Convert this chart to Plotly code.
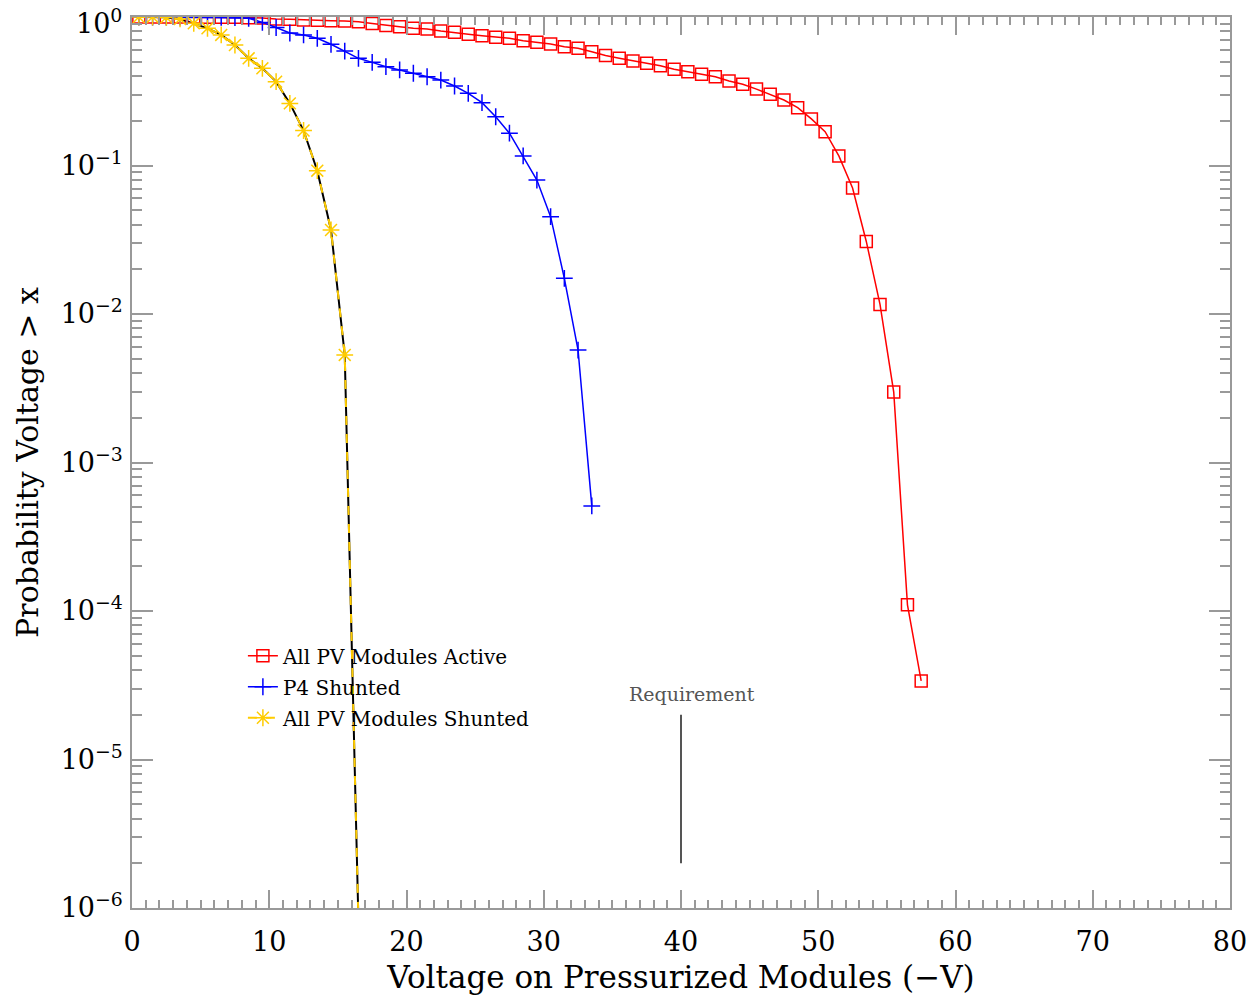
import plotly.graph_objects as go
import numpy as np

# ---------------- data ----------------
x_active = [i + 0.5 for i in range(58)]
p_active = [1.0, 1.0, 1.0, 1.0, 0.999, 0.998, 0.997, 0.995, 0.99, 0.985,
            0.969, 0.965, 0.955, 0.952, 0.944, 0.94, 0.93, 0.905, 0.878, 0.860,
            0.839, 0.830, 0.805, 0.789, 0.765, 0.748, 0.730, 0.719, 0.692, 0.675,
            0.658, 0.631, 0.616, 0.584, 0.550, 0.527, 0.506, 0.488, 0.470, 0.445,
            0.428, 0.411, 0.396, 0.371, 0.352, 0.327, 0.302, 0.276, 0.245, 0.206,
            0.169, 0.116, 0.0706, 0.0308, 0.0116, 0.00298, 1.10e-4, 3.38e-5]

x_p4 = [i + 0.5 for i in range(34)]
p_p4 = [1.0, 1.0, 1.0, 1.0, 1.0, 0.998, 0.995, 0.99, 0.98, 0.92,
        0.85, 0.78, 0.757, 0.719, 0.655, 0.59, 0.527, 0.495, 0.463, 0.440,
        0.418, 0.396, 0.376, 0.343, 0.306, 0.265, 0.213, 0.165, 0.116, 0.0798,
        0.0452, 0.0174, 0.00572, 5.1e-4]

x_all = [i + 0.5 for i in range(17)]
p_all = [1.0, 1.0, 0.995, 0.97, 0.907, 0.839, 0.757, 0.648, 0.527, 0.451,
         0.367, 0.262, 0.172, 0.0923, 0.0368, 0.0053, 8e-7]

req_x = [40, 40]
req_y = [2e-6, 2e-5]

x_ticks = [0, 10, 20, 30, 40, 50, 60, 70, 80]
y_tick_exp = [0, -1, -2, -3, -4, -5, -6]

FONT = "DejaVu Serif"

fig = go.Figure()

# black underlying line of the all-shunted curve
fig.add_trace(go.Scatter(x=x_all, y=p_all, mode="lines",
                         line=dict(color="black", width=2),
                         showlegend=False, hoverinfo="skip"))
fig.add_trace(go.Scatter(x=x_active, y=p_active, mode="lines+markers",
                         name="All PV Modules Active", legendgroup="a",
                         line=dict(color="#ff0000", width=1.5),
                         marker=dict(symbol="square-open", size=12,
                                     color="#ff0000", line=dict(width=1.5))))
fig.add_trace(go.Scatter(x=x_p4, y=p_p4, mode="lines+markers",
                         name="P4 Shunted", legendgroup="b",
                         line=dict(color="#0000ff", width=1.5),
                         marker=dict(symbol="cross-thin-open", size=12,
                                     color="#0000ff", line=dict(width=1.5, color="#0000ff"))))
fig.add_trace(go.Scatter(x=x_all, y=p_all, mode="lines+markers",
                         name="All PV Modules Shunted", legendgroup="c",
                         line=dict(color="#ffcc00", width=2, dash="dash"),
                         marker=dict(symbol="asterisk-open", size=14,
                                     color="#ffcc00", line=dict(width=1.5, color="#ffcc00"))))
fig.add_trace(go.Scatter(x=req_x, y=req_y, mode="lines",
                         line=dict(color="#555555", width=2),
                         showlegend=False, hoverinfo="skip"))

fig.add_annotation(x=40.8, y=np.log10(2.75e-5), text="Requirement", showarrow=False,
                   font=dict(family=FONT, size=19, color="#555555"),
                   xanchor="center", yanchor="middle")


def exp_label(e):
    return "10<sup>%s</sup>" % (str(e) if e >= 0 else "\u2212" + str(-e))


# top label (10^0) drawn slightly lower so it is not cut by the page edge
fig.add_annotation(xref="paper", yref="paper", x=0, y=1, xanchor="right", yanchor="middle",
                   xshift=-8, yshift=-4, text=exp_label(y_tick_exp[0]), showarrow=False,
                   font=dict(family=FONT, size=27, color="black"))

y_minor = [m * 10.0 ** e for e in range(-6, 0) for m in range(2, 10)]

fig.update_layout(
    width=1252, height=998,
    paper_bgcolor="white", plot_bgcolor="white",
    margin=dict(l=132, r=22, t=17, b=90, autoexpand=False),
    font=dict(family=FONT, color="black"),
    legend=dict(x=0.101, y=0.305, xanchor="left", yanchor="top",
                bgcolor="rgba(0,0,0,0)", font=dict(family=FONT, size=20),
                tracegroupgap=2),
    xaxis=dict(range=[0, 80], tickvals=x_ticks, ticktext=[str(v) for v in x_ticks],
               automargin=False, ticklabeloverflow="allow", ticklabelstandoff=9,
               ticks="inside", ticklen=18, tickcolor="#999999", tickwidth=1.5,
               showline=True, linecolor="#999999", linewidth=1.5, mirror="allticks",
               showgrid=False, zeroline=False,
               minor=dict(dtick=1, ticks="inside", ticklen=8, tickcolor="#999999",
                          tickwidth=1.5, showgrid=False),
               tickfont=dict(family=FONT, size=27),
               title=dict(text="Voltage on Pressurized Modules (\u2212V)",
                          font=dict(family=FONT, size=31), standoff=10)),
    yaxis=dict(type="log", range=[-6, 0],
               tickvals=[10.0 ** e for e in y_tick_exp],
               ticktext=["" if e == 0 else exp_label(e) for e in y_tick_exp],
               automargin=False, ticklabeloverflow="allow", ticklabelstandoff=2,
               ticks="inside", ticklen=21, tickcolor="#999999", tickwidth=1.5,
               showline=True, linecolor="#999999", linewidth=1.5, mirror="allticks",
               showgrid=False, zeroline=False,
               minor=dict(tickvals=y_minor, ticks="inside", ticklen=10,
                          tickcolor="#999999", tickwidth=1.5, showgrid=False),
               tickfont=dict(family=FONT, size=27),
               title=dict(text="Probability Voltage > x",
                          font=dict(family=FONT, size=30), standoff=13)),
)

fig.write_html("out.html", config={"displayModeBar": False},
               post_script="document.body.style.margin='0';")
